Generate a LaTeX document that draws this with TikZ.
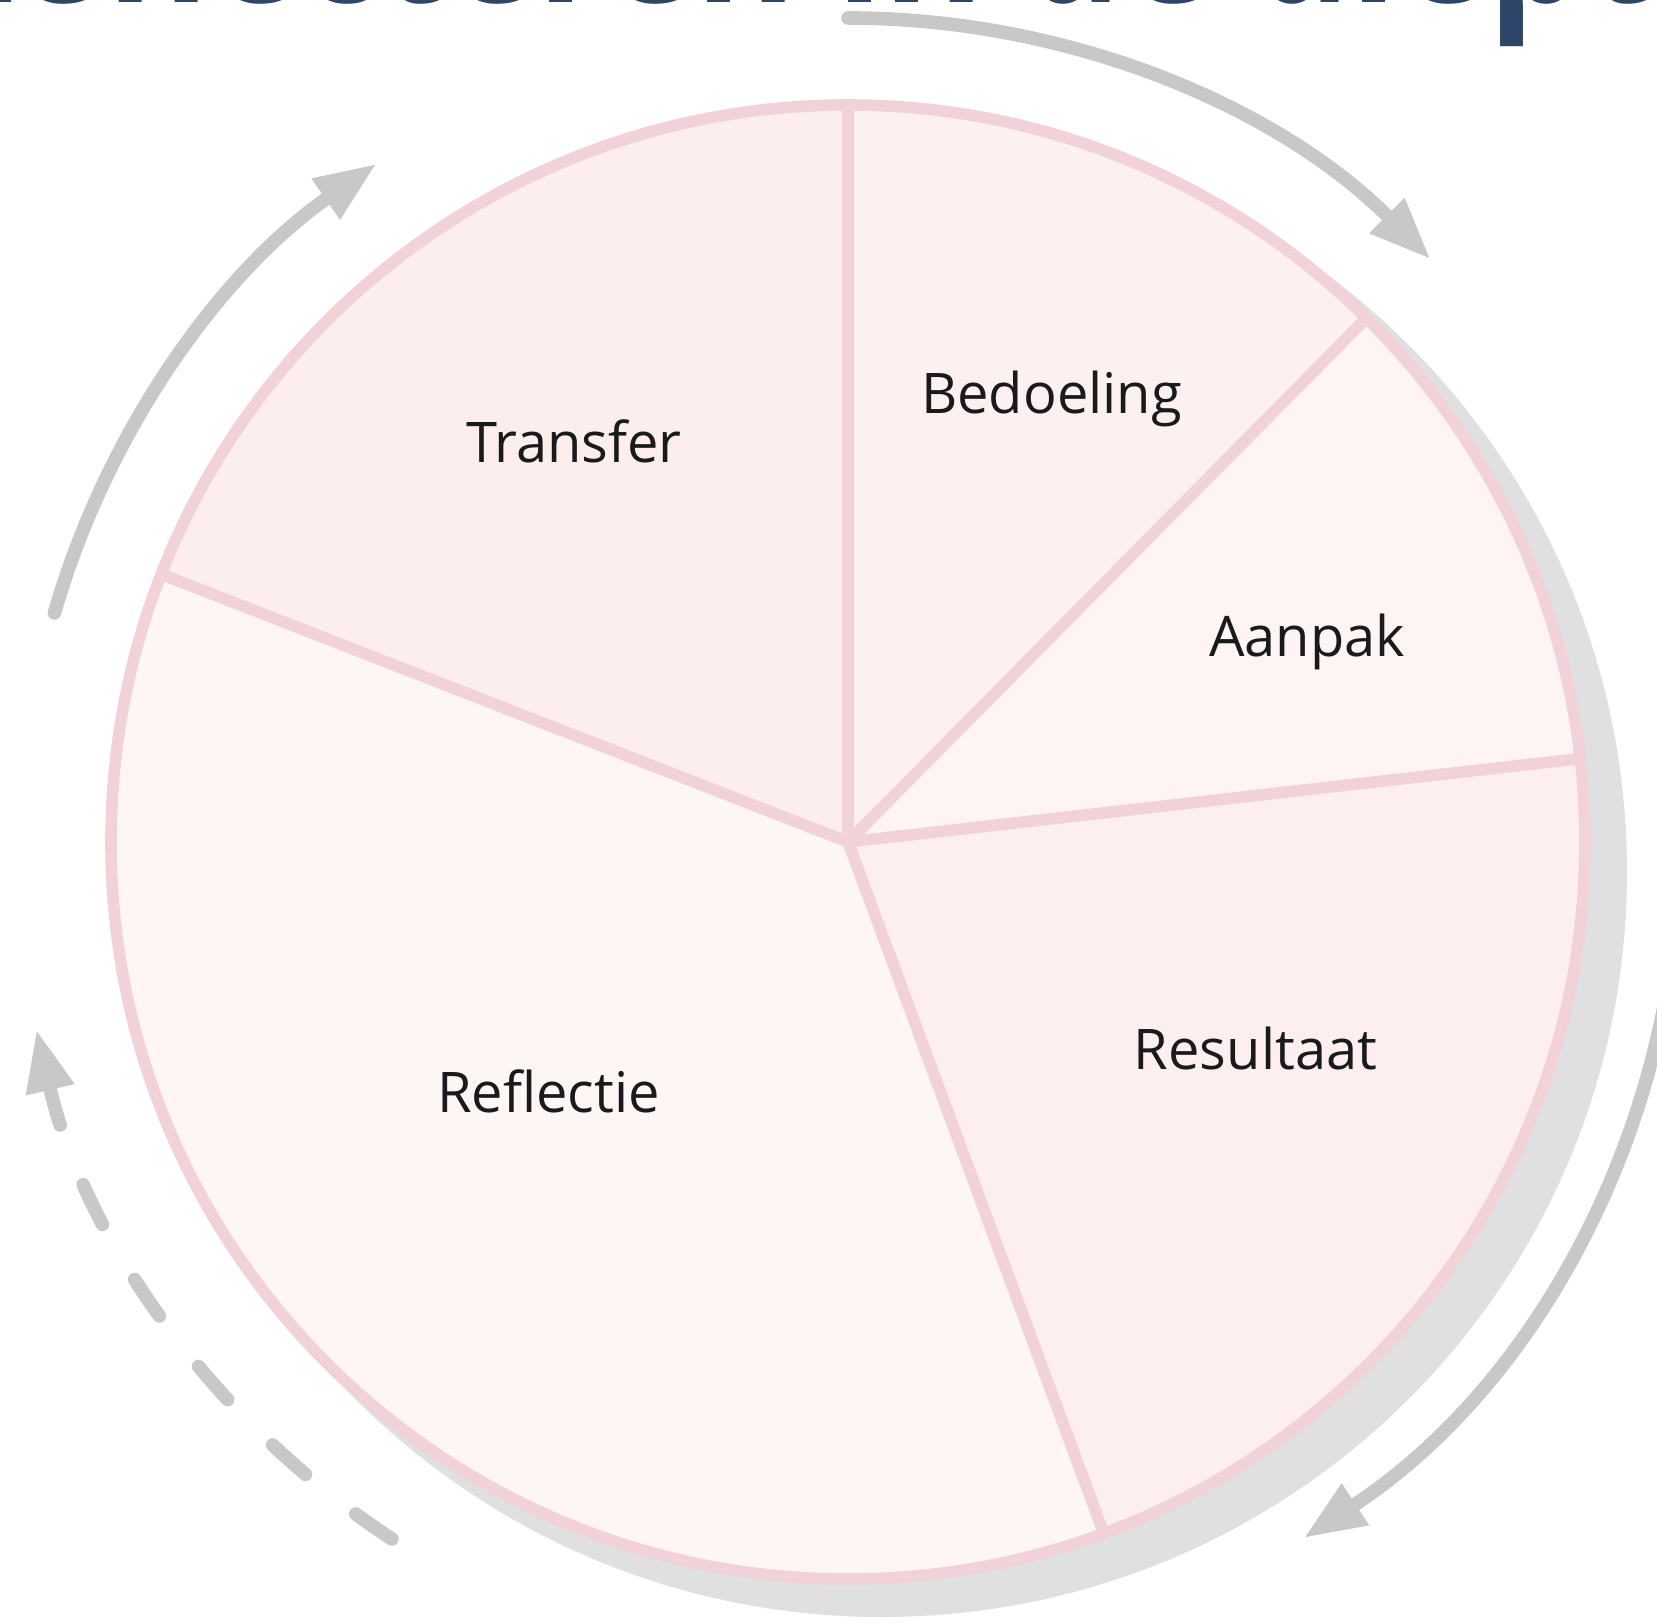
\documentclass[tikz,border=0pt]{standalone}
\usepackage{fontspec}
\usepackage{graphicx}
\setmainfont{Open Sans}
\usetikzlibrary{arrows.meta}
\definecolor{titleblue}{HTML}{2C4569}
\definecolor{arrowgray}{HTML}{C8C8C8}
\definecolor{shadowgray}{HTML}{E0E0E0}
\definecolor{borderpink}{HTML}{F0D2D8}
\definecolor{fillT}{HTML}{FDEEEE}
\definecolor{fillB}{HTML}{FDF0F0}
\definecolor{fillA}{HTML}{FEF4F4}
\definecolor{fillR}{HTML}{FDEFEF}
\definecolor{fillF}{HTML}{FEF5F5}
\definecolor{labelblack}{HTML}{1A1A1A}
\begin{document}
\begin{tikzpicture}[x=0.5pt,y=0.5pt,
  border/.style={draw=borderpink,line width=5.8pt,line join=round},
  cyc/.style={draw=arrowgray,line width=6.8pt,line cap=round,-{Triangle[length=31pt,width=23pt]}},
  cycdash/.style={cyc,dash pattern=on 22pt off 32pt},
  lbl/.style={anchor=base,text=labelblack,font=\fontsize{28}{32}\selectfont}]
\clip (0,0) rectangle (1657,1623);
\fill[white] (0,0) rectangle (1657,1623);
\coordinate (C) at (848,781);
% title (clipped at top)
\node[anchor=base west,text=titleblue,inner sep=0pt,font=\fontsize{92}{92}\selectfont\bfseries] (title) at (-90,1620) {\scalebox{0.837}[1]{Reflecteren in de diepte}};
% shadow
\fill[shadowgray] ([shift={(34,-30)}]C) circle[radius=745];
% slices
\fill[fillT] (C) -- ++(90:737) arc[start angle=90,end angle=158.7,radius=737] -- cycle;
\fill[fillB] (C) -- ++(45.3:737) arc[start angle=45.3,end angle=90,radius=737] -- cycle;
\fill[fillA] (C) -- ++(6.5:737) arc[start angle=6.5,end angle=45.3,radius=737] -- cycle;
\fill[fillR] (C) -- ++(-69.7:737) arc[start angle=-69.7,end angle=6.5,radius=737] -- cycle;
\fill[fillF] (C) -- ++(158.7:737) arc[start angle=158.7,end angle=290.3,radius=737] -- cycle;
\draw[border] (C) circle[radius=737];
\foreach \a in {90,45.3,6.5,-69.7,158.7} \draw[border] (C) -- ++(\a:737);
% labels
\node[lbl] (transfer) at (574,1160) {Transfer};
\node[lbl] (bedoeling) at (1051.5,1209) {Bedoeling};
\node[lbl] (aanpak) at (1307,966) {Aanpak};
\node[lbl] (resultaat) at (1255.5,553.5) {Resultaat};
\node[lbl] (reflectie) at (548.5,511) {Reflectie};
% cycle arrows
\coordinate (a1) at ([shift={(90:824)}]C);
\draw[cyc] (a1) arc[start angle=90,end angle=45,radius=824];
\coordinate (a2) at ([shift={(0:832)}]C);
\draw[cyc] (a2) arc[start angle=0,end angle=-56.8,radius=832];
\coordinate (a3) at ([shift={(236.8:833)}]C);
\draw[cycdash] (a3) arc[start angle=236.8,end angle=193,radius=833];
\coordinate (a4) at ([shift={(163.9:826)}]C);
\draw[cyc] (a4) arc[start angle=163.9,end angle=124.8,radius=826];
\end{tikzpicture}
\end{document}
